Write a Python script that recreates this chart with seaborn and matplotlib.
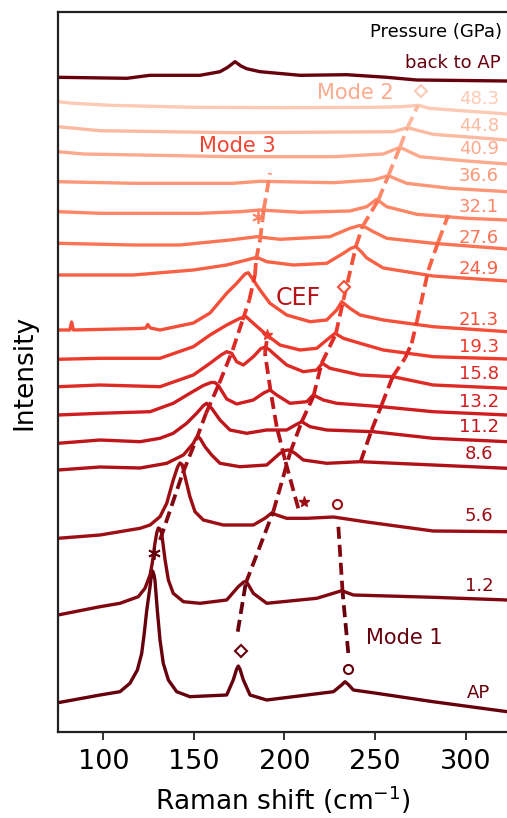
import numpy as np
import pandas as pd
import matplotlib
matplotlib.use("Agg")
import matplotlib.pyplot as plt
import seaborn as sns

# ---------------- data ----------------
pressure_labels = ["AP", "1.2", "5.6", "8.6", "11.2", "13.2", "15.8", "19.3",
                   "21.3", "24.9", "27.6", "32.1", "36.6", "40.9", "44.8", "48.3"]

# stacked spectra: Raman shift (cm-1) and offset intensity (arb.)
shift_ap = [75, 98.2, 109.2, 114.7, 118.8, 121.2, 122.6, 124.0, 125.8, 126.5, 127.2, 128.0,
            128.5, 129.8, 131.3, 133.1, 135.9, 140.5, 147.8, 168.1, 171.7, 173.6, 174.5, 175.4,
            177.3, 181, 190.2, 227, 231.5, 233.4, 235.5, 238, 250.9, 282, 323]
level_ap = [29.3, 37, 40.3, 48.7, 62, 78.7, 98.7, 122, 145.3, 156, 161, 157,
            152, 122, 92, 68.7, 52, 40.3, 35.3, 37, 52, 63, 66, 63,
            52, 37, 32, 40.3, 47, 50.3, 47, 42, 38.7, 30.3, 20.3]

shift_1p2 = [75, 98.2, 109.2, 119.3, 123.0, 125.8, 127.0, 128.5, 129.6, 130.4, 131.3, 132.2,
             134.1, 135.9, 138.6, 144.2, 153.4, 168.1, 174.5, 177.5, 178.6, 179.8, 182.8, 190.2,
             217.8, 231.6, 238, 282, 323]
level_1p2 = [117, 125.3, 128.7, 135.3, 143.7, 157, 168.7, 188.7, 200, 204, 203, 198.7,
             172, 152, 138.7, 130.3, 128.7, 132, 145.3, 150, 150.5, 148, 138.7, 128.7,
             133.7, 141.3, 137, 134.7, 132]

shift_5p6 = [75, 98.2, 120.3, 125.8, 131.3, 135.0, 138.6, 141.0, 142.3, 143.5, 145.1, 147.8,
             150.6, 155.2, 166.2, 182.8, 189.2, 192.9, 195.7, 201.2, 212.3, 227, 245.4, 282, 323]
level_5p6 = [193.7, 197, 203.7, 207, 215.3, 228.7, 252, 265, 269, 267.5, 255.3, 235.3,
             220.3, 212, 207, 207, 213.7, 219, 217, 213.7, 213.7, 215, 210, 201, 200.3]

shift_8p6 = [75, 98.2, 120.3, 135.0, 144.2, 149.7, 151.2, 152.4, 153.6, 156.1, 159.8, 164.4,
             175.4, 190.2, 197.5, 200.5, 202.1, 203.8, 205.8, 210.4, 223.3, 241.7, 282, 323]
level_8p6 = [262, 265, 264, 268.7, 277, 288.7, 294, 295.3, 293, 285.3, 277, 268.7,
             265.3, 267, 278.7, 281.5, 282, 281, 278.7, 272, 268.7, 270.3, 267, 263.7]

shift_11p2 = [75, 98.2, 120.3, 131.3, 138.6, 146.0, 151.5, 155.3, 157.1, 159.8, 164.4, 169.9,
              179.1, 190.2, 201.2, 206, 209.5, 214.1, 223.3, 249, 282, 323]
level_11p2 = [288.7, 292, 290.3, 293.7, 298.7, 308.7, 318.7, 326.5, 328.7, 323.7, 312, 302,
              298.7, 302, 302, 307, 310.3, 305.3, 302, 300.3, 293.7, 290.3]

shift_13p2 = [75, 98.2, 125.8, 138.6, 147.8, 155.2, 159.5, 161.6, 163.5, 168.1, 173.6, 182.8,
              188.5, 192, 195.7, 203, 212.3, 215.9, 221.4, 228.8, 253.6, 282, 323]
level_13p2 = [317, 318.7, 320.3, 328.7, 338.7, 346.5, 349.5, 349.5, 346.5, 333, 328, 332,
              339, 342, 337, 328.7, 330.3, 337, 332, 328.7, 325.3, 320.3, 317]

shift_15p8 = [75, 98.2, 131.3, 149.7, 158.9, 165, 168.1, 170.9, 173.6, 177.3, 182.8, 187,
              189.2, 191.5, 193.8, 201.2, 210.4, 217.8, 220.9, 225.1, 241.7, 260, 282, 323]
level_15p8 = [345.3, 347, 345.3, 357, 368.7, 377, 380.3, 378.7, 370.3, 367, 375.3, 383.5,
              384.7, 382.5, 378.7, 367, 360.3, 362, 368.7, 363.7, 357, 355.3, 347, 343.7]

shift_19p3 = [75, 98.2, 131.3, 149.7, 158.9, 168.1, 175.4, 178.8, 182.8, 190.2, 197.5, 208.6,
              217.8, 223.3, 227.9, 232.5, 241.7, 254.5, 282, 323]
level_19p3 = [372.7, 373.7, 373.7, 385.3, 397, 407, 413.7, 415.3, 408.7, 397, 387, 382,
              383.7, 392, 398.7, 393.7, 388.7, 382, 375.3, 373]

shift_21p3 = [75, 81.5, 82.5, 83.5, 120, 123.5, 124.5, 126, 131.3, 149.7, 158.9, 168.1,
              173.6, 178.2, 180, 182.8, 186.5, 192, 201.2, 214.1, 223.3, 228.8, 231.6, 236.1,
              241.7, 254.5, 282, 323]
level_21p3 = [402, 402, 410, 402, 403.5, 404, 407.5, 404, 402, 409, 419, 438.7,
              448.7, 458, 459.3, 452, 442, 428.7, 417, 410.3, 412, 422, 430.3, 423.7,
              417, 412, 405.3, 400.3]

shift_24p9 = [75, 116.6, 149.7, 168.1, 179.1, 184.7, 190.2, 204.9, 223.3, 232.5, 236.5, 239.3,
              242.5, 245.4, 254.5, 282, 323]
level_24p9 = [457, 457, 462, 467, 472, 474.7, 470.3, 467, 468.7, 478.7, 483.5, 485.5,
              480, 474, 464, 456, 451]

shift_27p6 = [75, 116.6, 142.3, 169.9, 184.7, 197.5, 225.1, 236.1, 241.5, 243.5, 249, 256.4,
              282.1, 323]
level_27p6 = [488.7, 487, 487, 492, 495.3, 492.7, 495.3, 503.7, 506.5, 506, 500.3, 493.7,
              488.7, 483]

shift_32p1 = [75, 98.2, 153.4, 175.4, 186.5, 208.6, 236, 245.4, 250.9, 256.4, 273, 300.6, 323]
level_32p1 = [520.3, 518.7, 518.7, 520.3, 522, 519.7, 521, 525.3, 532.7, 525.3, 517.7, 513.7, 512]

shift_36p6 = [75, 116.6, 171.6, 186.5, 227, 249, 257.3, 267.4, 291.3, 323]
level_36p6 = [550.3, 548.7, 548.7, 550.7, 549.3, 552, 556.3, 548.7, 543.7, 540.3]

shift_40p9 = [75, 89, 171.6, 227, 254.5, 263.7, 274.8, 300.6, 323]
level_40p9 = [580.3, 578, 575.3, 575.3, 578, 584.7, 575.3, 571, 568]

shift_44p8 = [75, 98.2, 171.6, 260, 267.8, 282, 323]
level_44p8 = [605.3, 601.3, 599.3, 600.3, 604.3, 597.7, 592]

shift_48p3 = [75, 83.3, 103.7, 150, 200, 250, 265, 273.7, 280, 300, 323]
level_48p3 = [630.3, 628.7, 626.7, 624.7, 624.3, 624.7, 625.3, 626.7, 623.7, 621, 618]

shift_back = [75, 113, 125.8, 153.4, 164.4, 168.5, 172.7, 176, 179.1, 186.5, 208.6, 234.3,
              256.4, 273, 323]
level_back = [654.7, 653.7, 656.7, 656.7, 660.3, 664.5, 670.3, 666, 663.3, 660.3, 656.7, 657.3,
              654.7, 652, 651]

# label heights for each pressure
label_level = [39.3, 146, 216, 278, 304.7, 330.3, 357.7, 384.7, 412, 462.7, 493.7,
               525.3, 556, 582.7, 606, 632.7]

# peak-tracking dashed lines: shift, level, spectrum index of each vertex
mode1_shift = [235.2, 232.1, 229.6]
mode1_level = [79, 139.3, 209]
mode1_idx = [0, 1, 2]

modeB_shift = [174.2, 178.6, 193.8, 203, 209.5, 215.9, 220.5, 228.3, 232.5, 239.5, 243,
               251.8, 257.3, 263.7, 267.8, 273.7]
modeB_level = [100.3, 148.7, 220.3, 278.7, 310.3, 335.3, 368.7, 398, 432, 486, 505.3,
               532, 556.3, 584.7, 604.3, 626.7]
modeB_idx = list(range(16))

modeA_shift = [131.3, 143.8, 151.2, 156.7, 164, 171.4, 176.9, 180.6, 183.7, 184.3, 186.5, 188.5, 192]
modeA_level = [192, 258.7, 292, 318.7, 348.7, 382, 412, 432, 457, 472, 492, 522, 559]
modeA_idx = [1, 2, 3, 4, 5, 6, 7, 7, 8, 9, 10, 11, 11]

modeC_shift = [207.6, 200.3, 195.7, 192.4, 189.2, 190.3]
modeC_level = [223.7, 272, 305.3, 340.3, 379, 392]
modeC_idx = [2, 3, 4, 5, 6, 7]

modeD_shift = [242, 248.1, 253.6, 259.7, 266.5, 270.2, 273, 279.4, 284.9, 290.4]
modeD_level = [270.3, 302, 327, 355.3, 373.7, 388.7, 410, 462, 490.3, 517]
modeD_idx = [3, 4, 5, 6, 6, 7, 8, 9, 10, 11]

# ---------------- styling ----------------
sns.set_theme(style="ticks")
plt.rcParams["font.family"] = ["DejaVu Sans"]

cmap = sns.color_palette("Reds", as_cmap=True)
pal = [cmap(v) for v in np.linspace(1.0, 0.2, len(pressure_labels))]

fig = plt.figure(figsize=(5.07, 8.18), dpi=100)
ax = fig.add_axes([58 / 507, 1 - 732 / 818, 1 - 58 / 507, 720 / 818])

spectra = [
    (shift_ap, level_ap), (shift_1p2, level_1p2), (shift_5p6, level_5p6),
    (shift_8p6, level_8p6), (shift_11p2, level_11p2), (shift_13p2, level_13p2),
    (shift_15p8, level_15p8), (shift_19p3, level_19p3), (shift_21p3, level_21p3),
    (shift_24p9, level_24p9), (shift_27p6, level_27p6), (shift_32p1, level_32p1),
    (shift_36p6, level_36p6), (shift_40p9, level_40p9), (shift_44p8, level_44p8),
    (shift_48p3, level_48p3),
]
frames = []
for lab, (xs, ys) in zip(pressure_labels, spectra):
    frames.append(pd.DataFrame({"shift": xs, "level": ys, "p": lab}))
frames.append(pd.DataFrame({"shift": shift_back, "level": level_back, "p": "back"}))
df = pd.concat(frames, ignore_index=True)
palette = {lab: pal[i] for i, lab in enumerate(pressure_labels)}
palette["back"] = pal[0]
sns.lineplot(data=df, x="shift", y="level", hue="p", palette=palette,
             hue_order=pressure_labels + ["back"], estimator=None, sort=False,
             legend=False, lw=2.4, ax=ax)
for ln in ax.lines:
    ln.set_solid_joinstyle("round")
    ln.set_solid_capstyle("round")

dash = (0, (3.2, 1.6))
for xs, ys, ids in [(mode1_shift, mode1_level, mode1_idx),
                    (modeB_shift, modeB_level, modeB_idx),
                    (modeA_shift, modeA_level, modeA_idx),
                    (modeC_shift, modeC_level, modeC_idx),
                    (modeD_shift, modeD_level, modeD_idx)]:
    for k in range(len(xs) - 1):
        lo = k if ys[k] < ys[k + 1] else k + 1
        sns.lineplot(x=[xs[k], xs[k + 1]], y=[ys[k], ys[k + 1]], sort=False,
                     estimator=None, color=pal[ids[lo]], lw=2.7,
                     linestyle=dash, ax=ax)

# markers
ax.plot([176.0], [81.3], marker="D", ms=6, mfc="white", mec=pal[0], mew=1.5, ls="none")
ax.plot([232.8], [444.7], marker="D", ms=6, mfc="white", mec=pal[8], mew=1.5, ls="none")
ax.plot([275.4], [641.3], marker="D", ms=6, mfc="white", mec=pal[15], mew=1.5, ls="none")
ax.plot([235.2], [62.7], marker="o", ms=6.5, mfc="white", mec=pal[0], mew=1.5, ls="none")
ax.plot([229.1], [228.0], marker="o", ms=6.5, mfc="white", mec=pal[2], mew=1.5, ls="none")
ax.plot([128.1], [179.3], marker=(6, 2, 0), ms=9, color=pal[0], mew=1.3, ls="none")
ax.plot([185.5], [515.3], marker=(6, 2, 0), ms=9, color=pal[11], mew=1.3, ls="none")
ax.plot([190.5], [397.0], marker="*", ms=8, color=pal[7], ls="none")
ax.plot([210.8], [229.7], marker="*", ms=8, color=pal[2], ls="none")

# labels
for i, lab in enumerate(pressure_labels):
    ax.text(307.3, label_level[i], lab, color=pal[i], fontsize=13,
            ha="center", va="center")
ax.text(319.9, 699.7, "Pressure (GPa)", color="black", fontsize=13, ha="right", va="center")
ax.text(319.3, 668.7, "back to AP", color=pal[0], fontsize=13, ha="right", va="center")
ax.text(239.3, 638.7, "Mode 2", color=cmap(0.3), fontsize=15, ha="center", va="center")
ax.text(173.8, 586.3, "Mode 3", color=cmap(0.6), fontsize=15, ha="center", va="center")
ax.text(207.6, 433.7, "CEF", color=cmap(0.82), fontsize=17, ha="center", va="center")
ax.text(266.3, 93.7, "Mode 1", color=pal[0], fontsize=15, ha="center", va="center")

ax.set_xlim(75, 322.8)
ax.set_ylim(0, 720)
ax.set_xticks([100, 150, 200, 250, 300])
ax.set_yticks([])
ax.set_xlabel("Raman shift (cm$^{-1}$)", fontsize=19, labelpad=6)
ax.set_ylabel("Intensity", fontsize=19, labelpad=15)
ax.tick_params(axis="x", labelsize=19.5, length=5.5, width=1.3, pad=7,
               direction="out", color="#222222", labelcolor="black")
for s in ["left", "bottom", "top"]:
    ax.spines[s].set_linewidth(1.6)
    ax.spines[s].set_color("#222222")
ax.spines["right"].set_visible(False)
ax.xaxis.label.set_color("black")
ax.yaxis.label.set_color("black")

fig.savefig("out.png", dpi=100)
